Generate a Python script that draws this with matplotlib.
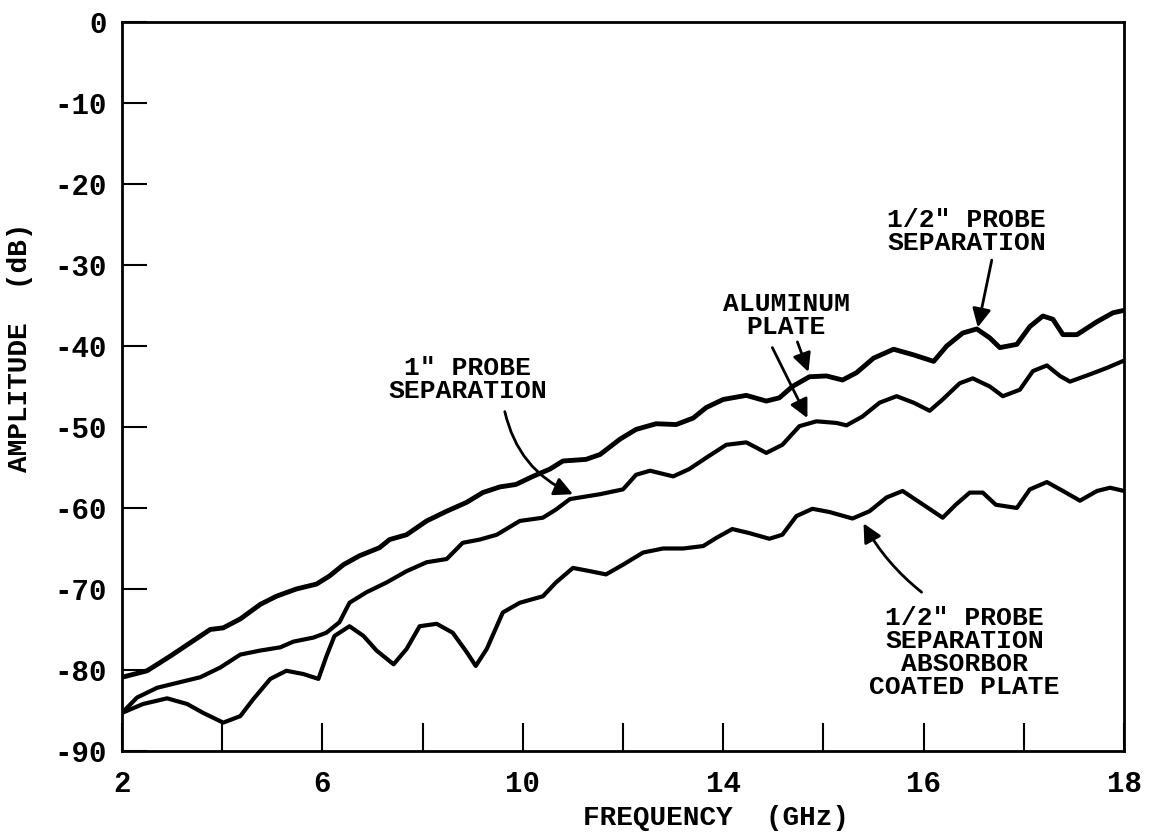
import matplotlib.pyplot as plt

# x is read in tick positions (0..10), the original axis labels are not evenly spaced
tick_pos = [0, 1, 2, 3, 4, 5, 6, 7, 8, 9, 10]
tick_lab = ["2", "", "6", "", "10", "", "14", "", "16", "", "18"]
y_ticks = [0, -10, -20, -30, -40, -50, -60, -70, -80, -90]

# 1/2" probe separation (aluminum plate)
pos_half = [0.00, 0.25, 0.48, 0.71, 0.88, 1.01, 1.18, 1.38, 1.54, 1.74, 1.94, 2.07, 2.21,
            2.37, 2.57, 2.67, 2.84, 3.04, 3.24, 3.44, 3.60, 3.77, 3.93, 4.10, 4.27, 4.40,
            4.63, 4.77, 4.97, 5.13, 5.33, 5.53, 5.70, 5.83, 6.00, 6.23, 6.43, 6.56, 6.69,
            6.86, 7.03, 7.19, 7.33, 7.50, 7.70, 7.90, 8.10, 8.23, 8.39, 8.53, 8.66, 8.76,
            8.93, 9.06, 9.19, 9.29, 9.39, 9.53, 9.73, 9.89, 10.0]
amp_half = [-80.9, -80.1, -78.3, -76.4, -75.0, -74.8, -73.7, -71.9, -70.9, -70.0, -69.4,
            -68.4, -67.0, -65.9, -64.9, -63.9, -63.3, -61.6, -60.4, -59.3, -58.1, -57.4,
            -57.1, -56.1, -55.2, -54.2, -54.0, -53.4, -51.5, -50.3, -49.6, -49.7, -48.9,
            -47.6, -46.6, -46.1, -46.8, -46.4, -45.0, -43.8, -43.7, -44.2, -43.3, -41.5,
            -40.4, -41.1, -41.9, -40.0, -38.4, -37.9, -39.0, -40.2, -39.8, -37.6, -36.3,
            -36.7, -38.6, -38.6, -37.0, -35.9, -35.6]

# 1" probe separation (aluminum plate)
pos_one = [0.00, 0.15, 0.35, 0.58, 0.78, 0.98, 1.18, 1.38, 1.58, 1.71, 1.91, 2.04, 2.17,
           2.27, 2.44, 2.64, 2.84, 3.04, 3.24, 3.40, 3.57, 3.74, 3.97, 4.20, 4.33, 4.47,
           4.77, 5.00, 5.13, 5.27, 5.50, 5.66, 5.83, 6.03, 6.23, 6.43, 6.59, 6.76, 6.93,
           7.13, 7.23, 7.39, 7.56, 7.73, 7.90, 8.06, 8.19, 8.36, 8.49, 8.66, 8.79, 8.96,
           9.09, 9.23, 9.36, 9.46, 9.66, 9.83, 10.0]
amp_one = [-85.3, -83.4, -82.2, -81.5, -80.9, -79.7, -78.1, -77.6, -77.2, -76.5, -76.0,
           -75.4, -74.1, -71.7, -70.4, -69.2, -67.8, -66.7, -66.3, -64.3, -63.9, -63.3,
           -61.6, -61.2, -60.2, -58.9, -58.3, -57.7, -55.9, -55.4, -56.1, -55.2, -53.8,
           -52.2, -51.9, -53.2, -52.2, -49.9, -49.3, -49.5, -49.8, -48.7, -47.0, -46.2,
           -47.0, -48.0, -46.6, -44.6, -44.0, -45.0, -46.2, -45.4, -43.1, -42.4, -43.7,
           -44.4, -43.5, -42.7, -41.8]

# 1/2" probe separation, absorber coated plate
pos_abs = [0.00, 0.21, 0.45, 0.65, 0.81, 1.01, 1.18, 1.31, 1.48, 1.64, 1.81, 1.96, 2.04,
           2.12, 2.27, 2.41, 2.54, 2.71, 2.84, 2.97, 3.14, 3.30, 3.44, 3.53, 3.64, 3.80,
           3.97, 4.20, 4.33, 4.50, 4.67, 4.83, 5.00, 5.20, 5.40, 5.60, 5.80, 5.93, 6.09,
           6.26, 6.46, 6.59, 6.73, 6.89, 7.06, 7.29, 7.46, 7.63, 7.79, 7.96, 8.19, 8.32,
           8.46, 8.59, 8.72, 8.93, 9.06, 9.23, 9.39, 9.56, 9.73, 9.86, 10.0]
amp_abs = [-85.3, -84.2, -83.5, -84.2, -85.3, -86.5, -85.7, -83.6, -81.1, -80.1, -80.5,
           -81.1, -78.3, -75.8, -74.6, -75.8, -77.6, -79.3, -77.4, -74.6, -74.3, -75.4,
           -77.8, -79.5, -77.4, -72.9, -71.7, -70.9, -69.2, -67.4, -67.8, -68.2, -67.0,
           -65.5, -65.0, -65.0, -64.7, -63.7, -62.6, -63.1, -63.8, -63.3, -61.0, -60.1,
           -60.5, -61.3, -60.4, -58.7, -57.9, -59.3, -61.2, -59.6, -58.1, -58.1, -59.6,
           -60.0, -57.7, -56.8, -57.9, -59.1, -57.9, -57.5, -57.9]

plt.rcParams["font.family"] = ["Liberation Mono", "DejaVu Sans Mono"]
plt.rcParams["font.weight"] = "bold"
plt.rcParams["axes.unicode_minus"] = False  # plain hyphen like the typed original

fig = plt.figure(figsize=(11.49, 8.36), dpi=100)
ax = fig.add_axes([0.1062, 0.1017, 0.8721, 0.8720])

ax.plot(pos_half, amp_half, color="black", lw=3.5, solid_joinstyle="round", solid_capstyle="round")
ax.plot(pos_one, amp_one, color="black", lw=3.0, solid_joinstyle="round", solid_capstyle="round")
ax.plot(pos_abs, amp_abs, color="black", lw=3.0, solid_joinstyle="round", solid_capstyle="round")

ax.set_xlim(0, 10)
ax.set_ylim(-90, 0)
ax.set_xticks(tick_pos)
ax.set_xticklabels(tick_lab)
ax.set_yticks(y_ticks)
ax.tick_params(axis="x", direction="in", length=20, width=1.5, pad=14, labelsize=21)
ax.tick_params(axis="y", direction="in", length=18, width=1.5, pad=11, labelsize=21)
for s in ax.spines.values():
    s.set_linewidth(2)

fig.text(0.623, 0.022, "FREQUENCY  (GHz)", ha="center", va="center", fontsize=20)
fig.text(0.017, 0.585, "AMPLITUDE  (dB)", ha="center", va="center", rotation=90, fontsize=20)

txt = dict(ha="center", va="center", fontsize=19, linespacing=0.95)
arw = dict(arrowstyle="-|>", color="black", lw=2, mutation_scale=28, shrinkA=0, shrinkB=0)

ax.text(8.43, -25.9, "1/2\" PROBE\nSEPARATION", **txt)
ax.annotate("", xy=(8.54, -37.7), xytext=(8.68, -29.4), arrowprops=arw)

ax.text(6.63, -36.2, "ALUMINUM\nPLATE", **txt)
ax.annotate("", xy=(6.85, -43.2), xytext=(6.74, -39.5), arrowprops=arw)
ax.annotate("", xy=(6.84, -48.9), xytext=(6.49, -40.2), arrowprops=arw)

ax.text(3.45, -44.1, "1\" PROBE\nSEPARATION", **txt)
ax.annotate("", xy=(4.50, -58.3), xytext=(3.82, -48.1),
            arrowprops=dict(arw, connectionstyle="arc3,rad=0.25"))

ax.text(8.41, -77.8, "1/2\" PROBE\nSEPARATION\nABSORBOR\nCOATED PLATE", **txt)
ax.annotate("", xy=(7.40, -61.9), xytext=(7.98, -70.4),
            arrowprops=dict(arw, connectionstyle="arc3,rad=-0.1"))

plt.savefig("out.png", dpi=100)
